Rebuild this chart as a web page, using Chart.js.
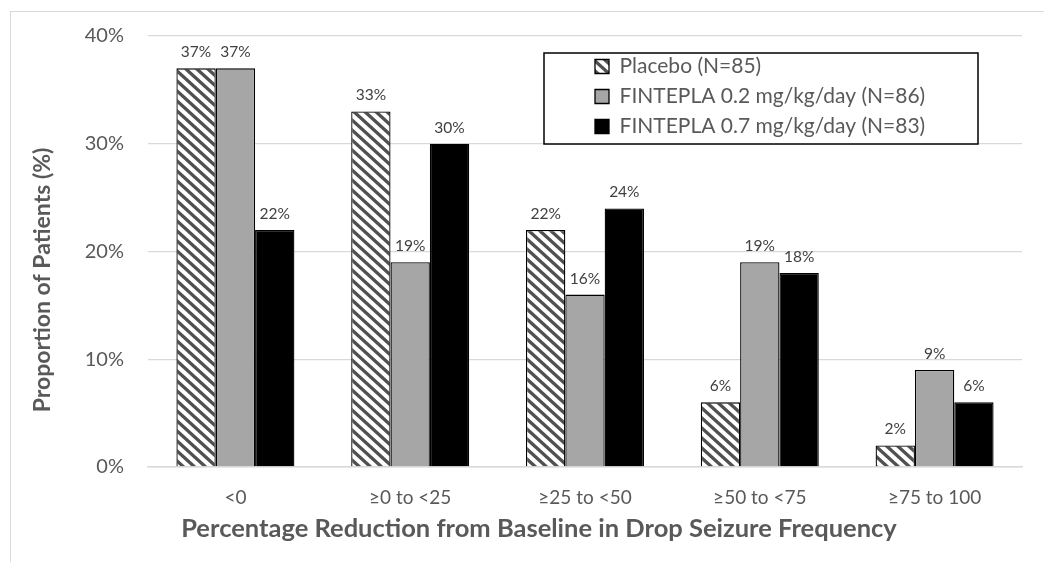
<!DOCTYPE html>
<html><head><meta charset="utf-8">
<script src="https://cdn.jsdelivr.net/npm/chart.js@4.4.1/dist/chart.umd.min.js"></script>
<style>
html,body{margin:0;padding:0;background:#fff;width:1044px;height:562px;overflow:hidden}
#frame{position:absolute;left:10px;top:11px;width:1100px;height:600px;border-left:1.5px solid #D9D9D9;border-top:1.5px solid #D9D9D9}
#wrap{position:absolute;left:0;top:0;width:1044px;height:562px}
</style></head>
<body>
<div id="frame"></div>
<div id="wrap"><canvas id="c" width="1044" height="562"></canvas></div>
<script>
const categories = ['<0', '≥0 to <25', '≥25 to <50', '≥50 to <75', '≥75 to 100'];
const seriesNames = ['Placebo (N=85)', 'FINTEPLA 0.2 mg/kg/day (N=86)', 'FINTEPLA 0.7 mg/kg/day (N=83)'];
const placebo = [37, 33, 22, 6, 2];
const fintepla02 = [37, 19, 16, 19, 9];
const fintepla07 = [22, 30, 24, 18, 6];
const yTickValues = [0, 10, 20, 30, 40];
const xTitle = 'Percentage Reduction from Baseline in Drop Seizure Frequency';
const yTitle = 'Proportion of Patients (%)';

const FONT = 'Lato, "Open Sans", sans-serif';
const TXT = '#595959';

function hatchPattern() {
  const w = 11, h = 10;
  const c = document.createElement('canvas');
  c.width = w; c.height = h;
  const x = c.getContext('2d');
  x.fillStyle = '#ffffff';
  x.fillRect(0, 0, w, h);
  x.strokeStyle = '#505050';
  x.lineWidth = 3.3;
  x.beginPath();
  for (let m = -1; m <= 1; m++) {
    x.moveTo(-w, -h + m * h);
    x.lineTo(2 * w, 2 * h + m * h);
  }
  x.stroke();
  return x.createPattern(c, 'repeat');
}

const valueLabels = {
  id: 'valueLabels',
  afterDatasetsDraw(chart) {
    const ctx = chart.ctx;
    ctx.save();
    ctx.font = '15.5px ' + FONT;
    ctx.fillStyle = '#404040';
    ctx.textAlign = 'center';
    ctx.textBaseline = 'middle';
    chart.data.datasets.forEach((ds, i) => {
      chart.getDatasetMeta(i).data.forEach((bar, j) => {
        ctx.fillText(ds.data[j] + '%', bar.x, bar.y - 16);
      });
    });
    ctx.restore();
  }
};

function shiftTitle(scale, dx, dy) {
  if (!scale || scale._shifted) return;
  const orig = scale.drawTitle;
  scale.drawTitle = function () {
    this.ctx.save();
    this.ctx.translate(dx, dy);
    orig.call(this);
    this.ctx.restore();
  };
  scale._shifted = true;
}

const layoutTweaks = {
  id: 'layoutTweaks',
  beforeDraw(chart) {
    shiftTitle(chart.scales.y, 0, 28.5);
    shiftTitle(chart.scales.x, -46, 0);
    const lg = chart.legend;
    lg.left = 586; lg.top = 47;
    lg.right = lg.left + lg.width; lg.bottom = lg.top + lg.height;
    if (!lg._framed) {
      const orig = lg.draw;
      lg.draw = function () {
        const c = this.ctx;
        c.save();
        c.fillStyle = '#ffffff';
        c.fillRect(544, 53, 434, 91);
        c.strokeStyle = '#000000';
        c.lineWidth = 1.5;
        c.strokeRect(544, 53, 434, 91);
        c.restore();
        orig.apply(this, arguments);
      };
      lg._framed = true;
    }
  }
};

new Chart(document.getElementById('c'), {
  type: 'bar',
  data: {
    labels: categories,
    datasets: [
      { label: seriesNames[0], data: placebo, backgroundColor: hatchPattern(), borderColor: '#000', borderWidth: 1.3 },
      { label: seriesNames[1], data: fintepla02, backgroundColor: '#A6A6A6', borderColor: '#000', borderWidth: 1.3 },
      { label: seriesNames[2], data: fintepla07, backgroundColor: '#000000', borderColor: '#000', borderWidth: 1.3 }
    ]
  },
  options: {
    responsive: false,
    animation: false,
    devicePixelRatio: 1,
    layout: { padding: { left: 0, top: 32, right: 22, bottom: 0 } },
    datasets: { bar: { categoryPercentage: 0.675, barPercentage: 1 } },
    plugins: {
      tooltip: { enabled: false },
      legend: {
        position: 'chartArea',
        align: 'start',
        labels: {
          boxWidth: 14, boxHeight: 14, padding: 9,
          color: TXT,
          font: { family: FONT, size: 21 }
        }
      }
    },
    scales: {
      x: {
        afterFit(s) { s.height = 95; },
        grid: { display: false, drawTicks: false },
        border: { display: true, color: '#D9D9D9', width: 1.5 },
        ticks: { color: TXT, padding: 19, font: { family: FONT, size: 19 } },
        title: { display: true, text: xTitle, color: TXT, padding: { top: 0, bottom: 18 }, font: { family: FONT, size: 25.5, weight: 'bold' } }
      },
      y: {
        min: 0, max: 40,
        afterFit(s) { s.width = 148; },
        afterBuildTicks(s) { s.ticks = yTickValues.map(v => ({ value: v })); },
        grid: { color: '#D9D9D9', lineWidth: 1.3, drawTicks: false },
        border: { display: false },
        ticks: { color: TXT, padding: 24, font: { family: FONT, size: 20 }, callback: v => v + '%' },
        title: { display: true, text: yTitle, color: TXT, padding: { top: 29, bottom: 0 }, font: { family: FONT, size: 23, weight: 'bold' } }
      }
    }
  },
  plugins: [valueLabels, layoutTweaks]
});
</script>
</body></html>
